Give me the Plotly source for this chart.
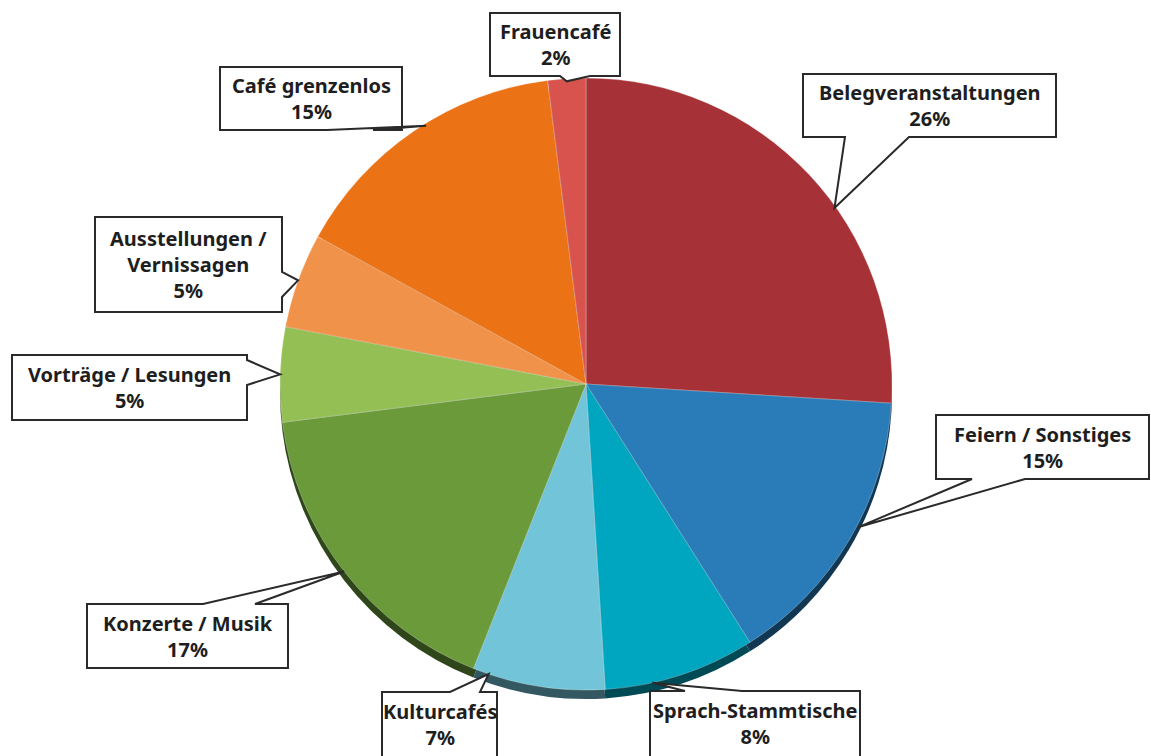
import plotly.graph_objects as go
import math

W, H = 1151, 756

# ---- data ----
categories = ["Belegveranstaltungen", "Feiern / Sonstiges", "Sprach-Stammtische", "Kulturcafés",
              "Konzerte / Musik", "Vorträge / Lesungen", "Ausstellungen /<br>Vernissagen",
              "Café grenzenlos", "Frauencafé"]
values = [26, 15, 8, 7, 17, 5, 5, 15, 2]
pct_labels = ["26%", "15%", "8%", "7%", "17%", "5%", "5%", "15%", "2%"]

colors = ["#A63136", "#2A7CB9", "#00A5C0", "#72C5D8", "#6A9A3A", "#93BF55", "#F0924A", "#EC7216", "#D9534E"]

# ---- layout helpers (pixel space) ----
CX, CY, R = 586, 384, 306
RIM = 9

def px(x):
    return x / W

def py(y):
    return 1 - y / H

def darker(hexc, f=0.45):
    h = hexc.lstrip("#")
    r, g, b = (int(h[i:i + 2], 16) for i in (0, 2, 4))
    return "#%02x%02x%02x" % (int(r * f), int(g * f), int(b * f))

fig = go.Figure()

# 3D rim (darker copy slightly lower)
fig.add_trace(go.Pie(
    labels=categories, values=values, sort=False, direction="clockwise", rotation=0,
    marker=dict(colors=[darker(c) for c in colors], line=dict(width=0)),
    textinfo="none", hoverinfo="skip", showlegend=False,
    domain=dict(x=[px(CX - R), px(CX + R)], y=[py(CY + RIM + R), py(CY + RIM - R)]),
))
fig.add_trace(go.Pie(
    labels=categories, values=values, sort=False, direction="clockwise", rotation=0,
    marker=dict(colors=colors, line=dict(width=0.8, color="rgba(255,255,255,0.35)")),
    textinfo="none", hoverinfo="label+percent", showlegend=False,
    domain=dict(x=[px(CX - R), px(CX + R)], y=[py(CY + R), py(CY - R)]),
))

# callout boxes: (x0, y0, x1, y1), side of wedge, wedge base coords along that side, tip fraction in slice
boxes = [
    ((803, 74, 1056, 137), "bottom", (845, 909), 0.58),
    ((936, 415, 1149, 479), "bottom", (972, 1025), 0.44),
    ((650, 691, 860, 770), "top", (685, 742), 0.69),
    ((382, 692, 497, 770), "top", (450, 480), 0.88),
    ((87, 604, 288, 668), "top", (203, 255), 0.5),
    ((12, 355, 247, 420), "right", (360, 385), 0.5),
    ((95, 217, 282, 312), "right", (272, 297), 0.5),
    ((220, 67, 402, 130), "bottom", (327, 373), 0.55),
    ((490, 13, 620, 76), "bottom", (560, 590), 0.5),
]

total = sum(values)
cum = 0
shapes = []
annotations = []
for i, (v, box) in enumerate(zip(values, boxes)):
    (x0, y0, x1, y1), side, (b1, b2), frac = box
    ang = (cum + v * frac) / total * 2 * math.pi
    cum += v
    tx = CX + R * math.sin(ang)
    ty = CY - R * math.cos(ang)
    if side == "bottom":
        ty += RIM * 0.3
    pts = [(x0, y0)]
    if side == "top":
        pts += [(min(b1, b2), y0), (tx, ty), (max(b1, b2), y0)]
    pts.append((x1, y0))
    if side == "right":
        pts += [(x1, min(b1, b2)), (tx, ty), (x1, max(b1, b2))]
    pts.append((x1, y1))
    if side == "bottom":
        pts += [(max(b1, b2), y1), (tx, ty), (min(b1, b2), y1)]
    pts.append((x0, y1))
    path = "M " + " L ".join("%.5f,%.5f" % (px(a), py(b)) for a, b in pts) + " Z"
    shapes.append(dict(type="path", xref="paper", yref="paper", path=path,
                       fillcolor="white", line=dict(color="#2a2a2a", width=2), layer="above"))
    ycen = y0 + 32 if y1 > H else (y0 + y1) / 2
    annotations.append(dict(
        x=px((x0 + x1) / 2), y=py(ycen), xref="paper", yref="paper",
        text="<b>%s<br>%s</b>" % (categories[i], pct_labels[i]),
        showarrow=False, xanchor="center", yanchor="middle", align="center",
        font=dict(family="Noto Sans", size=20, color="#1e1e1e"),
    ))

fig.update_layout(
    width=W, height=H, margin=dict(l=0, r=0, t=0, b=0),
    paper_bgcolor="white", plot_bgcolor="white",
    shapes=shapes, annotations=annotations, showlegend=False,
)

fig.write_html("out.html", config={"displayModeBar": False},
               post_script="document.body.style.margin='0';document.body.style.overflow='hidden';")
